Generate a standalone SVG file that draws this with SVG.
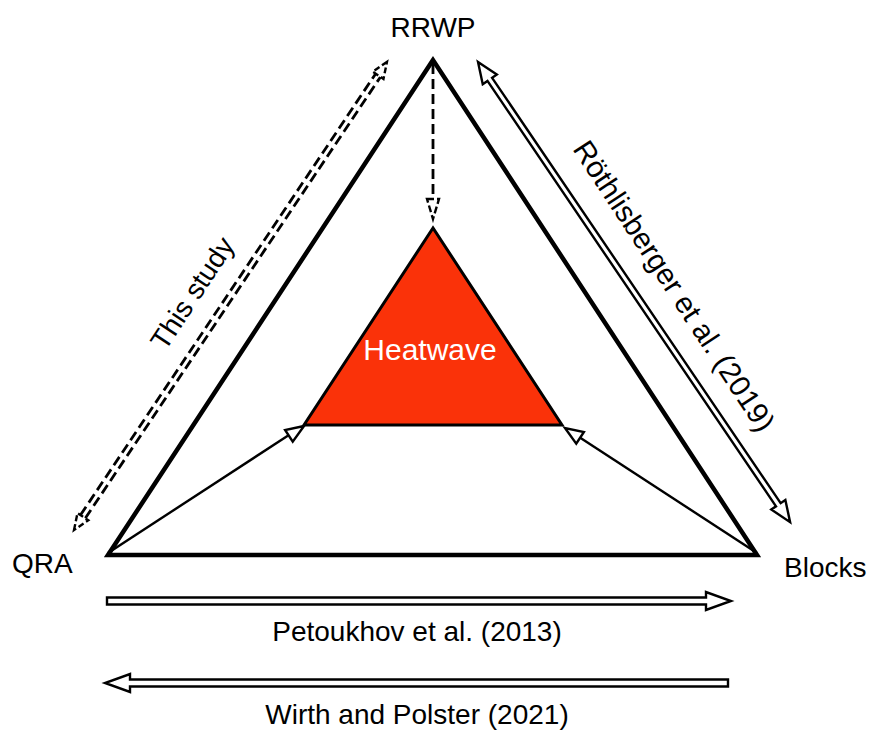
<svg xmlns="http://www.w3.org/2000/svg" width="875" height="730" viewBox="0 0 875 730">
<style>
text{font-family:"Liberation Sans",Arial,sans-serif;font-size:28px;fill:#000}
.dbl{fill:#fff;stroke:#000;stroke-width:2.4;stroke-linejoin:miter}
.dash{fill:none;stroke:#000;stroke-width:2.8;stroke-dasharray:10,5}
.thin{fill:none;stroke:#000;stroke-width:2.4}
.head{fill:#fff;stroke:#000;stroke-width:2.4}
</style>
<rect width="875" height="730" fill="#fff"/>
<g id="outer">
<polygon points="433,60 108,555 757,555" fill="none" stroke="#000" stroke-width="4.5" stroke-linejoin="miter"/>
</g>
<g id="heatwave">
<polygon points="433,228 304,425 562,425" fill="#fa3209" stroke="#000" stroke-width="3"/>
<text x="430" y="360" text-anchor="middle" style="fill:#fff;font-size:30px">Heatwave</text>
</g>
<g id="labels">
<text id="rrwp" x="433" y="37" text-anchor="middle">RRWP</text>
<text id="qra" x="12" y="573">QRA</text>
<text id="blocks" x="784" y="577">Blocks</text>
</g>
<g id="connectors">
<line x1="433" y1="64" x2="433" y2="200" class="dash"/>
<polygon points="427,199 439,199 433,219" class="head" stroke-dasharray="7,3"/>
<line x1="108" y1="553" x2="292" y2="433" class="thin"/>
<polygon points="0,0 -18,-7 -18,7" class="head" transform="translate(304,426) rotate(-33.1)"/>
<line x1="757" y1="553" x2="576" y2="435" class="thin"/>
<polygon points="0,0 -18,-7 -18,7" class="head" transform="translate(565,428) rotate(213.1)"/>
<path class="dbl" transform="translate(478,62) rotate(55.85)" d="M0,0 L21,-8.5 L21,-2.8 L535,-2.8 L535,-8.5 L556,0 L535,8.5 L535,2.8 L21,2.8 L21,8.5 Z"/>
<g transform="translate(74,530) rotate(-56.23)">
<line x1="16" y1="-2.9" x2="547" y2="-2.9" class="dash" stroke-width="2.6"/>
<line x1="16" y1="2.9" x2="547" y2="2.9" class="dash" stroke-width="2.6"/>
<polygon points="0,0 16,-6.5 16,6.5" class="head" stroke-dasharray="6,3"/>
<polygon points="563,0 547,-6.5 547,6.5" class="head" stroke-dasharray="6,3"/>
</g>
<path class="dbl" d="M107,597.5 L706,597.5 L706,592 L731,601 L706,610 L706,604.5 L107,604.5 Z"/>
<path class="dbl" d="M728,679.5 L130,679.5 L130,674 L105,683 L130,692 L130,686.5 L728,686.5 Z"/>
</g>
<g id="refs">
<text x="417" y="641" text-anchor="middle">Petoukhov et al. (2013)</text>
<text x="417" y="724" text-anchor="middle">Wirth and Polster (2021)</text>
<text transform="translate(192,293) rotate(-56.7)" x="0" y="10" text-anchor="middle">This study</text>
<text transform="translate(674,286) rotate(56.7)" x="0" y="10" text-anchor="middle" style="font-size:29.5px">Röthlisberger et al. (2019)</text>
</g>
</svg>
